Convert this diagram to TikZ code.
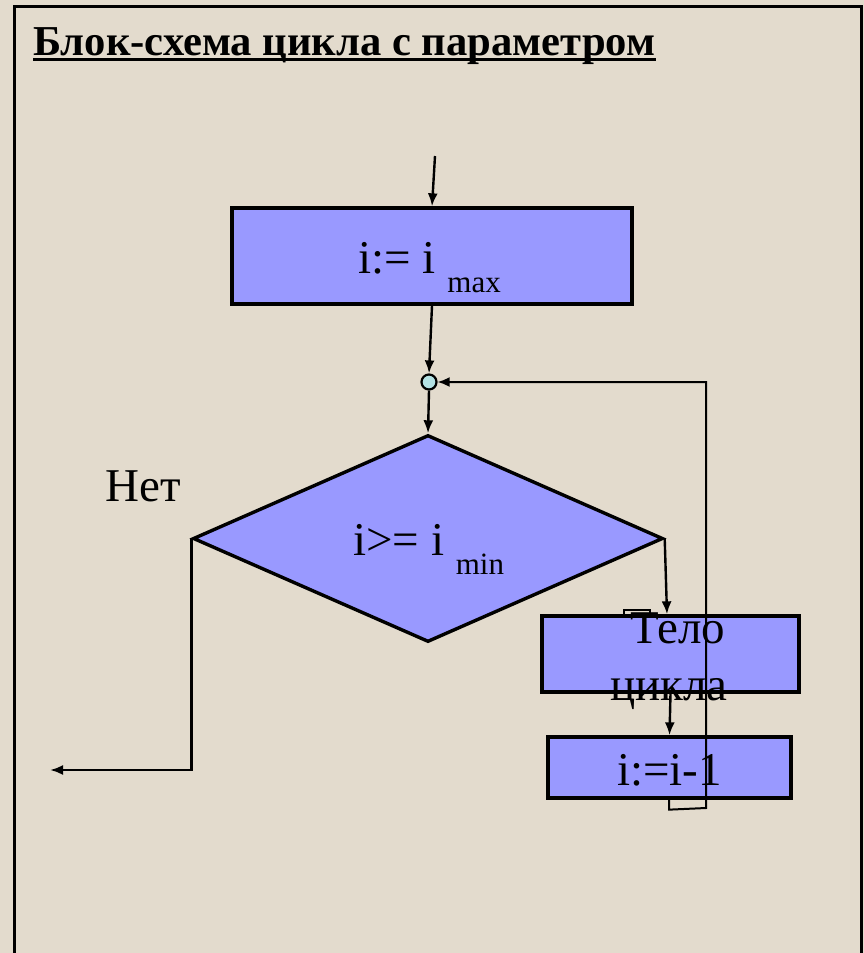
\documentclass[tikz,border=0pt]{standalone}
\usepackage{fontspec}
\setmainfont{Liberation Serif}
\usepackage{tikz}
\usetikzlibrary{shapes.geometric,arrows.meta}
\definecolor{paper}{HTML}{E3DBCD}
\definecolor{blockblue}{HTML}{9999FF}
\definecolor{joincyan}{HTML}{B4E2E4}
\newcommand{\bigtxt}{\fontsize{47}{57}\selectfont}
\newcommand{\subtxt}[1]{\raisebox{-19pt}{\fontsize{31}{31}\selectfont #1}}

\begin{document}
\begin{tikzpicture}[x=1pt,y=-1pt,
  block/.style={draw=black,line width=3.3pt,fill=blockblue,rectangle},
  arr/.style={line width=2.4pt,-{Latex[length=13pt,width=10pt]}},
  backarr/.style={line width=2pt,-{Latex[length=12pt,width=10pt]}}]
\tikzstyle{every node}+=[inner sep=0pt]
\fill [paper] (0,0) rectangle (864,953);
\useasboundingbox (0,0) rectangle (864,953);
\draw [line width=3pt] (14,960) -- (14,6) -- (861,6) -- (861,960);
% title
\node [anchor=base west,font=\bfseries\fontsize{42.6}{42.6}\selectfont] (title) at (33,55) {Блок-схема цикла с параметром};
\draw [line width=3pt] ([yshift=-4.5pt]title.base west) -- ([yshift=-4.5pt]title.base east);
% blocks
\node [block,minimum width=400pt,minimum height=96pt] (maxbox) at (432,256) {};
\node [circle,draw=black,line width=2.2pt,fill=joincyan,minimum size=15pt] (junc) at (429,382) {};
\node [diamond,draw=black,line width=3.4pt,fill=blockblue,minimum width=470pt,minimum height=207pt] (cond) at (428,538.5) {};
\draw [line width=1.6pt] (624,610) rectangle (650,616);
\node [block,minimum width=257pt,minimum height=76pt] (body) at (670.5,654) {};
\node [block,minimum width=243pt,minimum height=61pt] (dec) at (669.5,767.5) {};
\coordinate (entry) at (435,156);
\coordinate (exit) at (50,770);
% connectors
\draw [arr] (entry) -- (maxbox.north);
\draw [arr] (maxbox.south) -- (junc.north);
\draw [arr] (junc.south) -- (cond.north);
\draw [arr] (cond.west) |- (exit);
\draw [arr] (cond.east) -- ([xshift=-3.5pt]body.north);
\draw [arr] (body.south) -- (dec.north);
\draw [backarr] ([xshift=-0.5pt]dec.south) -- ++(0,10) -- (706,808) |- (junc.east);
% texts
\node [anchor=base west,font=\bigtxt] (maxtxt) at (358,273) {i:= i \subtxt{max}};
\node [anchor=base west,font=\bigtxt] (condtxt) at (353,555) {i>= i \subtxt{min}};
\node [anchor=base west,font=\bigtxt] (notxt) at (105,501) {Нет};
\node [anchor=base west,font=\bigtxt] (bodytxt) at (630,643) {Тело};
\node [anchor=base west,font=\bigtxt] (bodytxtb) at (610,700) {цикла};
\node [anchor=base west,font=\bigtxt] (dectxt) at (617,785) {i:=i-1};
\end{tikzpicture}
\end{document}
